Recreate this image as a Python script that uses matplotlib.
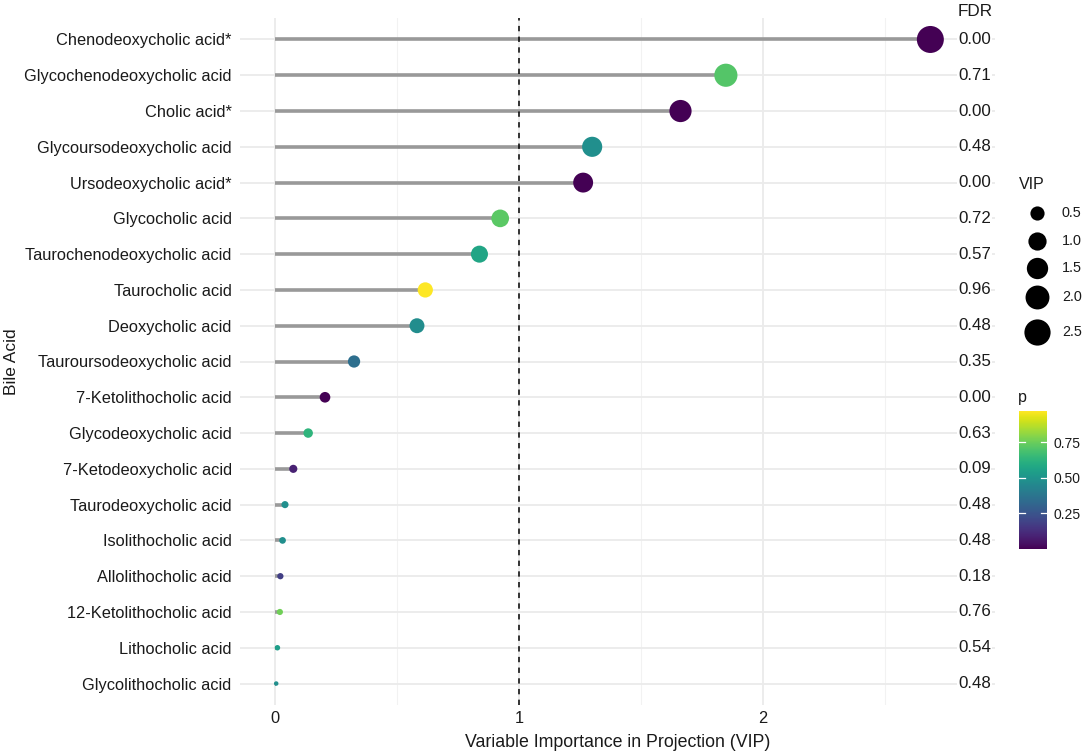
import numpy as np
import matplotlib
matplotlib.use("Agg")
import matplotlib.pyplot as plt
from matplotlib import cm, colors

plt.rcParams['font.family'] = ['Liberation Sans', 'DejaVu Sans']

acids = ["Chenodeoxycholic acid*", "Glycochenodeoxycholic acid", "Cholic acid*",
         "Glycoursodeoxycholic acid", "Ursodeoxycholic acid*", "Glycocholic acid",
         "Taurochenodeoxycholic acid", "Taurocholic acid", "Deoxycholic acid",
         "Tauroursodeoxycholic acid", "7-Ketolithocholic acid", "Glycodeoxycholic acid",
         "7-Ketodeoxycholic acid", "Taurodeoxycholic acid", "Isolithocholic acid",
         "Allolithocholic acid", "12-Ketolithocholic acid", "Lithocholic acid",
         "Glycolithocholic acid"]
vip = [2.686, 1.848, 1.662, 1.300, 1.263, 0.923, 0.838, 0.616, 0.582,
       0.324, 0.205, 0.136, 0.075, 0.041, 0.031, 0.022, 0.020, 0.010, 0.005]
pval = [0.001, 0.71, 0.001, 0.48, 0.001, 0.72, 0.57, 0.97, 0.47,
        0.35, 0.001, 0.63, 0.09, 0.48, 0.48, 0.18, 0.76, 0.54, 0.48]
fdr_labels = ["0.00", "0.71", "0.00", "0.48", "0.00", "0.72", "0.57", "0.96", "0.48",
              "0.35", "0.00", "0.63", "0.09", "0.48", "0.48", "0.18", "0.76", "0.54", "0.48"]
vip_legend = [0.5, 1.0, 1.5, 2.0, 2.5]
p_ticks = [0.25, 0.50, 0.75]

W, H = 1084, 753
DPI = 100
fig = plt.figure(figsize=(W / DPI, H / DPI), dpi=DPI)
TXT = '#1a1a1a'

vmin_s, vmax_s = min(vip), max(vip)
DMAX_PX = 27.0


def size_of(v):
    t = np.clip((np.asarray(v, float) - vmin_s) / (vmax_s - vmin_s), 0, 1)
    d_px = DMAX_PX * (1 + 5 * np.sqrt(t)) / 6
    d_pt = d_px * 72 / DPI
    return d_pt ** 2


L, R, T, B = 240, 995, 18, 705
ax = fig.add_axes([L / W, (H - B) / H, (R - L) / W, (B - T) / H])
n = len(acids)
y = np.arange(n)

norm = colors.Normalize(vmin=0.0, vmax=max(pval))
cmap = plt.get_cmap('viridis')

ax.hlines(y, 0, vip, color='#999999', lw=2.6, zorder=2)
ax.scatter(vip, y, s=size_of(vip), c=pval, cmap=cmap, norm=norm, zorder=3, linewidths=0)
ax.axvline(1, color='black', ls=(0, (3.5, 3.5)), lw=1.1, zorder=2.5)

ax.set_xlim(-0.1434, 2.951)
ax.set_ylim(n - 1 + 0.6, -0.6)
ax.set_yticks(y)
ax.set_yticklabels(acids)
ax.set_xticks([0, 1, 2])
ax.set_xticks([0.5, 1.5, 2.5], minor=True)
ax.grid(True, which='major', color='#ebebeb', lw=1.3, zorder=0)
ax.grid(True, which='minor', axis='x', color='#f2f2f2', lw=0.8, zorder=0)
ax.set_axisbelow(True)
for s in ax.spines.values():
    s.set_visible(False)
ax.tick_params(axis='both', which='both', length=0, labelsize=11.75, labelcolor=TXT)
ax.tick_params(axis='y', pad=6)
ax.tick_params(axis='x', pad=4)
ax.set_xlabel("Variable Importance in Projection (VIP)", fontsize=12.75, color=TXT, labelpad=6)
fig.text(12 / W, 1 - 362 / H, "Bile Acid", rotation=90, ha='center', va='center',
         fontsize=12.5, color=TXT)

xfdr = (958 - 275) / 244.0
for yi, lab in zip(y, fdr_labels):
    ax.text(xfdr, yi, lab, ha='left', va='center', fontsize=12.2, color=TXT, zorder=4,
            bbox=dict(boxstyle='square,pad=0.05', fc='white', ec='none'))
fig.text(958 / W, 1 - 11 / H, "FDR", ha='left', va='center', fontsize=12.3, color=TXT)

# size legend (overlay axes in pixel coordinates)
ov = fig.add_axes([0, 0, 1, 1], facecolor='none')
ov.set_xlim(0, W)
ov.set_ylim(H, 0)
ov.axis('off')
ov.text(1019, 184, "VIP", ha='left', va='center', fontsize=11.5, color=TXT)
leg_y = [213, 241, 268, 297, 332]
for v, ly in zip(vip_legend, leg_y):
    ov.scatter([1037], [ly], s=size_of(v), color='black', linewidths=0)
    ov.text(1062, ly, f"{v:.1f}", ha='left', va='center', fontsize=10.4, color=TXT)

# colorbar
cb_l, cb_r, cb_t, cb_b = 1019, 1047, 411, 549
cax = fig.add_axes([cb_l / W, (H - cb_b) / H, (cb_r - cb_l) / W, (cb_b - cb_t) / H])
sm = cm.ScalarMappable(norm=norm, cmap=cmap)
cb = fig.colorbar(sm, cax=cax, ticks=p_ticks)
cb.outline.set_visible(False)
cb.ax.set_yticklabels([f"{t:.2f}" for t in p_ticks])
cb.ax.tick_params(length=0, labelsize=10, labelcolor=TXT, pad=5)
for t in p_ticks:
    cax.axhline(t, xmin=0, xmax=0.2, color='white', lw=0.9)
    cax.axhline(t, xmin=0.8, xmax=1, color='white', lw=0.9)
ov.text(1018, 397, "p", ha='left', va='center', fontsize=11.5, color=TXT)

fig.savefig("out.png", dpi=DPI)
